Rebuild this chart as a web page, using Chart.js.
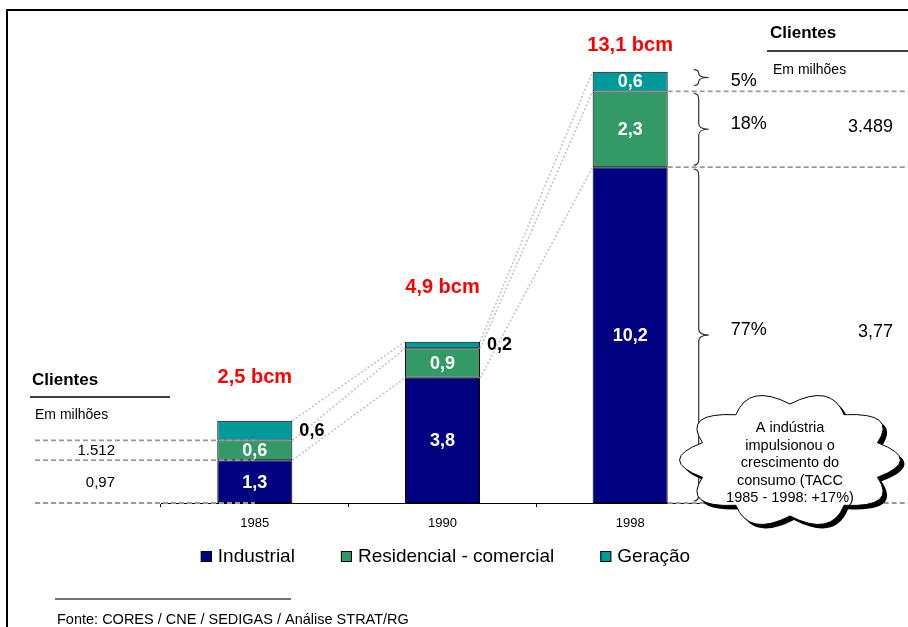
<!DOCTYPE html>
<html>
<head>
<meta charset="utf-8">
<script src="https://cdn.jsdelivr.net/npm/chart.js@4/dist/chart.umd.min.js"></script>
<style>
  html, body { margin: 0; padding: 0; background: #fff; }
</style>
</head>
<body>
<canvas id="consumo" width="908" height="627"></canvas>
<script>
// dados (bcm)
const anos        = ['1985', '1990', '1998'];
const industrial  = [1.3, 3.8, 10.2];
const residencial = [0.6, 0.9, 2.3];
const geracao     = [0.6, 0.2, 0.6];
const geracaoFora = [true, true, false];   // rótulo de geração ao lado da barra

// clientes (em milhões) e quotas por segmento: [industrial, residencial, geração]
const clientes1985 = ['0,97', '1.512'];
const clientes1998 = ['3,77', '3.489'];
const quotas1998   = ['77%', '18%', '5%'];

const textoNuvem = ['A indústria', 'impulsionou o', 'crescimento do', 'consumo (TACC', '1985 - 1998: +17%)'];
const fonte      = 'Fonte: CORES / CNE / SEDIGAS / Análise STRAT/RG';

const FONTE = "'Liberation Sans', Arial, sans-serif";
const cores = { industrial: '#000080', residencial: '#339966', geracao: '#009999' };

const fmt = v => v.toFixed(1).replace('.', ',');

// desenho auxiliar
function linha(ctx, x1, y1, x2, y2, cor, largura, tracejado) {
  ctx.save();
  ctx.strokeStyle = cor;
  ctx.lineWidth = largura;
  ctx.setLineDash(tracejado || []);
  ctx.beginPath();
  ctx.moveTo(x1, y1);
  ctx.lineTo(x2, y2);
  ctx.stroke();
  ctx.restore();
}

function texto(ctx, t, x, y, font, cor, align) {
  ctx.save();
  ctx.font = font;
  ctx.fillStyle = cor;
  ctx.textAlign = align || 'left';
  ctx.textBaseline = 'middle';
  ctx.fillText(t, x, y);
  ctx.restore();
}

// chave vertical aberta à esquerda, bico para a direita
function chave(ctx, x, y1, y2, ponta) {
  const ym = (y1 + y2) / 2;
  const r = Math.min(6, (y2 - y1) / 4);
  ctx.save();
  ctx.strokeStyle = '#333';
  ctx.lineWidth = 1.2;
  ctx.beginPath();
  ctx.moveTo(x - 5, y1);
  ctx.quadraticCurveTo(x, y1, x, y1 + r);
  ctx.lineTo(x, ym - r);
  ctx.quadraticCurveTo(x, ym, ponta, ym);
  ctx.quadraticCurveTo(x, ym, x, ym + r);
  ctx.lineTo(x, y2 - r);
  ctx.quadraticCurveTo(x, y2, x - 5, y2);
  ctx.stroke();
  ctx.restore();
}

function caminhoNuvem(ctx, cx, cy, rx, ry, n) {
  const giro = Math.PI / n;
  ctx.beginPath();
  for (let i = 0; i <= n; i++) {
    const a = i / n * Math.PI * 2 + giro;
    const px = cx + rx * Math.cos(a);
    const py = cy + ry * Math.sin(a);
    if (i === 0) { ctx.moveTo(px, py); continue; }
    const am = (i - 0.5) / n * Math.PI * 2 + giro;
    ctx.quadraticCurveTo(cx + rx * 1.45 * Math.cos(am), cy + ry * 1.45 * Math.sin(am), px, py);
  }
  ctx.closePath();
}

// anotações sobre o gráfico
const anotacoes = {
  id: 'anotacoes',
  afterDatasetsDraw(chart) {
    const ctx = chart.ctx;
    const y = chart.scales.y;
    const area = chart.chartArea;
    const metas = chart.data.datasets.map((d, i) => chart.getDatasetMeta(i));
    const barras = metas[0].data.map(el => ({
      x: el.x,
      esq: el.x - el.width / 2,
      dir: el.x + el.width / 2
    }));

    // linhas pontilhadas entre as barras
    const niveis = anos.map((a, i) => [
      industrial[i],
      industrial[i] + residencial[i],
      industrial[i] + residencial[i] + geracao[i]
    ]);
    for (let i = 0; i < anos.length - 1; i++) {
      niveis[i].forEach((v, k) => {
        linha(ctx, barras[i].dir, y.getPixelForValue(v), barras[i + 1].esq,
              y.getPixelForValue(niveis[i + 1][k]), '#c4c4c4', 1.6, [2, 2]);
      });
    }

    // rótulos dentro / ao lado dos segmentos
    metas.forEach((meta, d) => {
      const valores = chart.data.datasets[d].data;
      meta.data.forEach((el, i) => {
        const yc = (el.y + el.base) / 2;
        if (d === 2 && geracaoFora[i]) {
          texto(ctx, fmt(valores[i]), barras[i].dir + 7, yc, `bold 18px ${FONTE}`, '#000');
        } else {
          texto(ctx, fmt(valores[i]), el.x, yc + 1, `bold 18px ${FONTE}`, '#fff', 'center');
        }
      });
    });

    // totais em vermelho
    const elevacao = [43, 54, 26];
    barras.forEach((b, i) => {
      const total = industrial[i] + residencial[i] + geracao[i];
      texto(ctx, fmt(total) + ' bcm', b.x, y.getPixelForValue(total) - elevacao[i],
            `bold 20px ${FONTE}`, '#ff0000', 'center');
    });

    // clientes 1985 (à esquerda)
    const y0 = y.getPixelForValue(0);
    const y85a = y.getPixelForValue(niveis[0][0]);
    const y85b = y.getPixelForValue(niveis[0][1]);
    [y85b, y85a, y0].forEach(py => linha(ctx, 35, py, barras[0].x, py, '#9a9a9a', 1.8, [5, 3]));
    texto(ctx, 'Clientes', 32, 380, `bold 17px ${FONTE}`, '#000');
    linha(ctx, 30, 397, 170, 397, '#000', 1.5);
    texto(ctx, 'Em milhões', 35, 415, `14px ${FONTE}`, '#000');
    texto(ctx, clientes1985[1], 115, (y85a + y85b) / 2 + 1, `15px ${FONTE}`, '#000', 'right');
    texto(ctx, clientes1985[0], 115, (y0 + y85a) / 2 + 1, `15px ${FONTE}`, '#000', 'right');

    // 1998: linhas tracejadas, chaves, quotas e clientes (à direita)
    const limites = [0, niveis[2][0], niveis[2][1], niveis[2][2]].map(v => y.getPixelForValue(v));
    [limites[2], limites[1], limites[0]].forEach(py => linha(ctx, barras[2].dir, py, chart.width, py, '#9a9a9a', 1.8, [5, 3]));
    const xc = barras[2].dir + 31;
    for (let k = 0; k < 3; k++) {
      const baixo = limites[k] - 2, cima = limites[k + 1] + 2;
      chave(ctx, xc, k === 2 ? cima - 4 : cima, k === 2 ? baixo - 4 : baixo, xc + 10);
      texto(ctx, quotas1998[k], xc + 32, (cima + baixo) / 2 - (k === 2 ? 0 : 5), `18px ${FONTE}`, '#000');
    }
    texto(ctx, clientes1998[1], 893, (limites[1] + limites[2]) / 2 - 2, `18px ${FONTE}`, '#000', 'right');
    texto(ctx, clientes1998[0], 893, (limites[0] + limites[1]) / 2 - 3, `18px ${FONTE}`, '#000', 'right');
    texto(ctx, 'Clientes', 770, 33, `bold 17px ${FONTE}`, '#000');
    linha(ctx, 767, 51, chart.width, 51, '#000', 1.5);
    texto(ctx, 'Em milhões', 773, 70, `14px ${FONTE}`, '#000');

    // nuvem com sombra
    ctx.save();
    ctx.translate(4, 4);
    caminhoNuvem(ctx, 790, 460, 92, 56, 10);
    ctx.fillStyle = '#000';
    ctx.fill();
    ctx.restore();
    ctx.save();
    caminhoNuvem(ctx, 790, 460, 92, 56, 10);
    ctx.fillStyle = '#fff';
    ctx.fill();
    ctx.strokeStyle = '#000';
    ctx.lineWidth = 1;
    ctx.stroke();
    ctx.restore();
    textoNuvem.forEach((t, i) => texto(ctx, t, 790, 428 + i * 17.5, `14.5px ${FONTE}`, '#000', 'center'));

    // legenda
    ctx.save();
    ctx.font = `19px ${FONTE}`;
    const itens = chart.data.datasets.map(d => ({ label: d.label, cor: d.backgroundColor, w: 17 + ctx.measureText(d.label).width }));
    const gap = 46;
    const total = itens.reduce((s, it) => s + it.w, 0) + gap * (itens.length - 1);
    let lx = (area.left + area.right) / 2 + 3 - total / 2;
    itens.forEach(it => {
      ctx.fillStyle = it.cor;
      ctx.fillRect(lx, 551, 11, 11);
      ctx.strokeStyle = '#000';
      ctx.lineWidth = 1;
      ctx.strokeRect(lx + 0.5, 551.5, 10, 10);
      texto(ctx, it.label, lx + 17, 557, `19px ${FONTE}`, '#000');
      lx += it.w + gap;
    });
    ctx.restore();

    // fonte e moldura
    linha(ctx, 55, 599, 291, 599, '#444', 1.5);
    texto(ctx, fonte, 57, 620, `14.5px ${FONTE}`, '#000');
    linha(ctx, 7, 10, chart.width, 10, '#000', 2);
    linha(ctx, 7, 9, 7, chart.height, '#000', 2);
  }
};

new Chart(document.getElementById('consumo'), {
  type: 'bar',
  data: {
    labels: anos,
    datasets: [
      { label: 'Industrial',              data: industrial,  backgroundColor: cores.industrial },
      { label: 'Residencial - comercial', data: residencial, backgroundColor: cores.residencial },
      { label: 'Geração',                 data: geracao,     backgroundColor: cores.geracao }
    ].map(d => Object.assign(d, {
      borderColor: '#000',
      borderWidth: 1,
      borderSkipped: false,
      categoryPercentage: 1,
      barPercentage: 0.4
    }))
  },
  options: {
    responsive: false,
    devicePixelRatio: 1,
    animation: false,
    layout: { padding: { left: 161, right: 184, top: 42, bottom: 0 } },
    plugins: { legend: { display: false }, tooltip: { enabled: false } },
    scales: {
      x: {
        stacked: true,
        afterFit: s => { s.height = 124; },
        border: { display: true, color: '#000', width: 1 },
        grid: { display: true, drawOnChartArea: false, drawTicks: true, tickLength: 4, offset: true, color: '#000' },
        ticks: { color: '#000', padding: 9, font: { family: FONTE, size: 13 } }
      },
      y: { stacked: true, display: false, min: 0, max: 14 }
    }
  },
  plugins: [anotacoes]
});
</script>
</body>
</html>
